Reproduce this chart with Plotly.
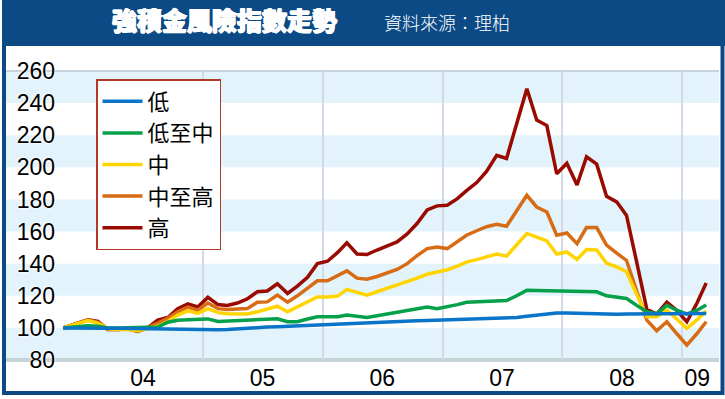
import plotly.graph_objects as go
import pandas as pd

# ---------------- data ----------------
start_date = "2003-11-01"
monthly_dates = [d.strftime("%Y-%m-%d") for d in
                 pd.date_range("2003-12-15", periods=64, freq=pd.DateOffset(months=1))]
dates = [start_date] + monthly_dates

low = [100, 99.8, 99.8, 99.8, 99.8, 99.8, 99.7, 99.6, 99.5, 99.2,
       99, 98.8, 98.7, 98.7, 98.8, 98.8, 99, 99.5, 100, 100.3,
       100.5, 100.7, 101, 101.2, 101.5, 101.8, 102.2, 102.5, 102.8, 103,
       103.3, 103.6, 103.8, 104, 104.2, 104.4, 104.6, 104.8, 105, 105.1,
       105.2, 105.3, 105.4, 105.6, 105.8, 106.5, 107.3, 108, 108.6, 109.2,
       109.2, 109, 108.8, 108.5, 108.5, 108.5, 108.6, 108.7, 108.8, 108.9,
       109, 109, 109, 109, 109]
low_mid = [100, 100.5, 101.3, 101, 100, 100, 100, 100, 100, 100.5,
           103.5, 104.8, 105, 105.2, 105.6, 104, 104.3, 104.8, 105, 105.2,
           105.5, 105.7, 103.8, 103.8, 105.5, 106.9, 106.9, 106.9, 108, 107,
           106.5, 107.5, 108.5, 109.5, 110.5, 111.5, 113, 112, 113, 114.5,
           116, 116.2, 116.2, 116.5, 117, 120, 123.5, 123.3, 123.2, 123.1,
           123.1, 123.1, 123.1, 122.5, 120, 119, 118.3, 114, 110, 108.8,
           114, 111, 108.5, 111, 114.2]
mid = [100, 102.5, 104.5, 103, 99.5, 99, 99, 98.2, 99.5, 101,
       104, 108, 110.6, 109, 112, 109.5, 108.8, 108.6, 108.6, 110,
       111.5, 113.5, 110, 113, 116, 119.3, 119.3, 119.8, 124, 122,
       120.4, 122.5, 124.5, 126.6, 128.5, 131, 133.4, 134.9, 136.2, 138.5,
       141, 142.5, 144.5, 146, 144.7, 152, 158.8, 156.5, 154.2, 146,
       147.3, 142.6, 148.8, 148.6, 140.3, 138, 135, 121, 107, 107,
       111, 105.5, 99.7, 105, 110.5]
mid_high = [100, 103, 105, 103.5, 99.5, 99, 99.5, 97.6, 100, 103,
            106, 110, 113, 111, 115.5, 112, 111.5, 111.5, 112, 116,
            116.2, 120.4, 116, 120, 124.5, 129.3, 129.3, 132.5, 135.5, 131,
            130.3, 132, 134, 136.4, 140, 145, 149.4, 150.4, 149.4, 153.5,
            157.7, 160.5, 163, 164.5, 163.3, 173, 182.6, 175.3, 172.2, 157.7,
            159.1, 152.5, 162.5, 162.5, 151.5, 146.5, 142, 123, 104.8, 98.2,
            103.8, 96.5, 89.3, 96.5, 103.8]
high = [100, 103, 105, 104, 99, 99, 99.5, 98, 100, 104.8,
        106.5, 112, 115, 113, 119, 114.5, 114, 115.5, 118, 122.5,
        123, 127.5, 121.5, 126, 131.5, 140, 141.5, 147, 153, 146,
        145.7, 148.5, 151, 153.5, 158.5, 165, 173.5, 176, 176.4, 180.5,
        185.5, 190.5, 197.5, 207.5, 205.5, 227, 249, 229.5, 226, 196,
        202.5, 189, 206.5, 202, 182, 178.5, 170, 141, 111.5, 108.6,
        116, 111, 103.8, 115.5, 128]

series_names = ["低", "低至中", "中", "中至高", "高"]
series_values = [low, low_mid, mid, mid_high, high]
series_colors = ["#0a74c9", "#05a04a", "#ffd400", "#d86c14", "#990a00"]

y_ticks = [80, 100, 120, 140, 160, 180, 200, 220, 240, 260]
x_tick_dates = ["2004-07-01", "2005-07-01", "2006-07-01", "2007-07-01",
                "2008-07-01", "2009-02-16"]
x_tick_text = ["04", "05", "06", "07", "08", "09"]
year_lines = ["2005-01-01", "2006-01-01", "2007-01-01", "2008-01-01", "2009-01-01"]

title_text = "強積金風險指數走勢"
source_text = "資料來源：理柏"

# ---------------- figure ----------------
W, H = 725, 399
navy = "#0c4a86"
band_color = "#e2f3fc"

fig = go.Figure()

# draw 高 first so that 低 ends on top; legend ordered by rank
for rank, (name, vals, col) in reversed(list(enumerate(zip(series_names, series_values, series_colors)))):
    fig.add_trace(go.Scatter(
        x=dates, y=vals, mode="lines", name=name,
        legendgroup=name, legendrank=rank + 1,
        line=dict(color=col, width=3.5),
    ))

def px_x(p):
    return p / W

def px_y(p):
    return (H - p) / H

shapes = []
# title bar
shapes.append(dict(type="rect", xref="paper", yref="paper",
                   x0=px_x(2), x1=1.0, y0=px_y(46), y1=1.0,
                   fillcolor=navy, line=dict(width=0), layer="below"))
# light blue bands
for lo in [80, 120, 160, 200, 240]:
    shapes.append(dict(type="rect", xref="paper", yref="y",
                       x0=px_x(6), x1=px_x(719), y0=lo, y1=lo + 20,
                       fillcolor=band_color, line=dict(width=0), layer="below"))
# top and bottom grey rules
shapes.append(dict(type="line", xref="paper", yref="y domain",
                   x0=px_x(6), x1=px_x(719), y0=1, y1=1,
                   line=dict(color="#c6d3dc", width=2), layer="below"))
shapes.append(dict(type="line", xref="paper", yref="y domain",
                   x0=px_x(6), x1=px_x(719), y0=0, y1=0,
                   line=dict(color="#c5d2d6", width=4), layer="below"))
# outer frame
shapes.append(dict(type="rect", xref="paper", yref="paper",
                   x0=px_x(4), x1=px_x(722.5), y0=px_y(393), y1=px_y(44),
                   fillcolor="rgba(0,0,0,0)", line=dict(color=navy, width=4),
                   layer="above"))

halo = "white 0px 0px 2px, white 0px 0px 2px, white 0px 0px 3px"
embolden = ("white 0.7px 0px 0px, white -0.7px 0px 0px, "
            "white 0px 0.5px 0px, white 0px -0.5px 0px")

fig.update_layout(
    width=W, height=H,
    margin=dict(l=0, r=0, t=0, b=0, pad=0, autoexpand=False),
    paper_bgcolor="white",
    plot_bgcolor="rgba(0,0,0,0)",
    shapes=shapes,
    showlegend=True,
    legend=dict(
        x=px_x(96), y=px_y(79), xanchor="left", yanchor="top",
        bgcolor="white", bordercolor="#b0392a", borderwidth=1.5,
        font=dict(family="Noto Sans CJK TC", size=22, color="black"),
        traceorder="grouped", tracegroupgap=0,
        itemwidth=40,
    ),
    xaxis=dict(
        domain=[px_x(60), px_x(718)],
        range=["2003-10-22", "2009-04-20"],
        type="date", automargin=False,
        tickmode="array", tickvals=x_tick_dates, ticktext=x_tick_text,
        showgrid=False, zeroline=False, showline=False, ticks="",
        ticklabelstandoff=2,
        tickfont=dict(family="Liberation Sans, Arial", size=23, color="black"),
        minor=dict(tickmode="array", tickvals=year_lines, showgrid=True,
                   gridcolor="#d3d9e6", gridwidth=2, ticks=""),
        fixedrange=True,
    ),
    yaxis=dict(
        domain=[px_y(360), px_y(71)],
        range=[80, 260], automargin=False,
        tickmode="array", tickvals=y_ticks,
        showgrid=False, zeroline=False, showline=False, ticks="",
        ticklabelstandoff=4,
        tickfont=dict(family="Liberation Sans, Arial", size=23, color="black",
                      shadow=halo),
        fixedrange=True,
    ),
    annotations=[
        dict(text=title_text, xref="paper", yref="paper",
             x=px_x(224), y=px_y(19), xanchor="center", yanchor="middle",
             showarrow=False,
             font=dict(family="Noto Sans CJK TC", size=25, color="white",
                       weight=900, shadow=embolden)),
        dict(text=source_text, xref="paper", yref="paper",
             x=px_x(447), y=px_y(22), xanchor="center", yanchor="middle",
             showarrow=False,
             font=dict(family="Noto Sans CJK TC", size=18, color="white",
                       weight=300)),
    ],
)

fig.write_html("out.html", config={"displayModeBar": False},
               post_script="document.body.style.margin='0px';")
